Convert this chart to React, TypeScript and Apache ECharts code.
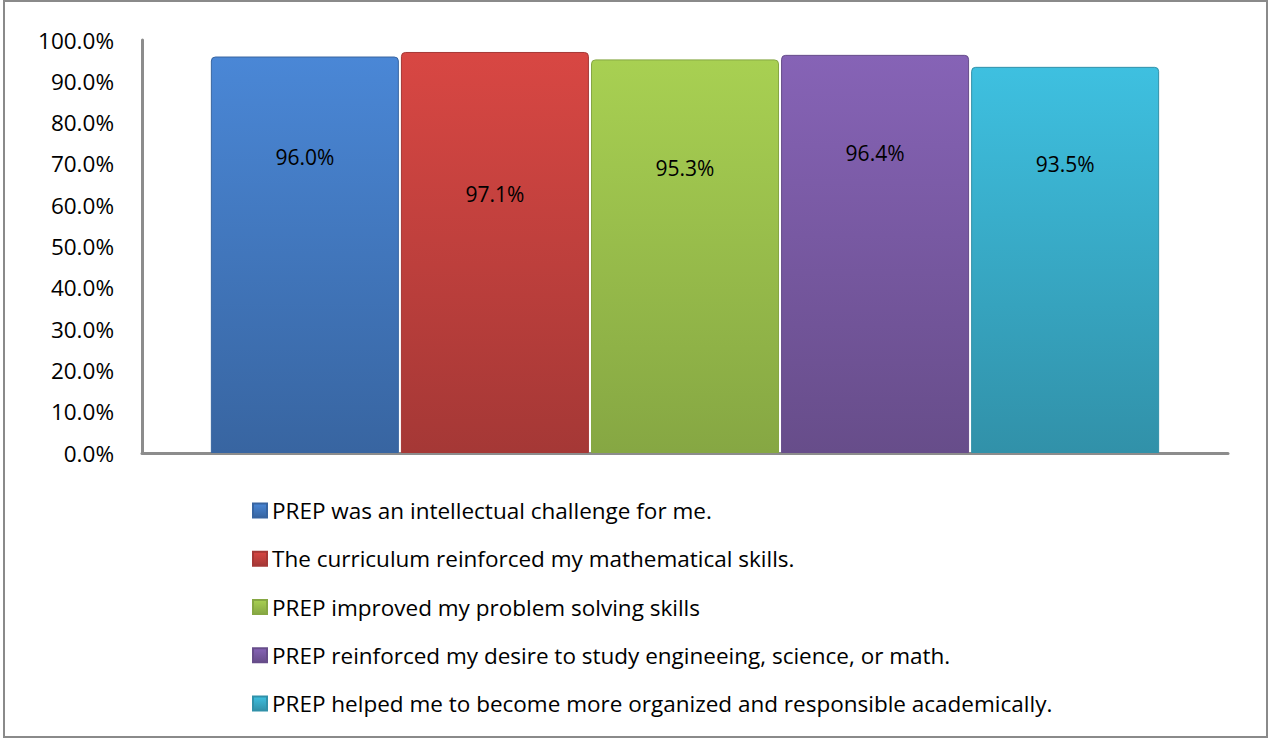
import React, { useEffect, useRef } from "react";
import * as echarts from "echarts";

const seriesNames = [
  "PREP was an intellectual challenge for me.",
  "The curriculum reinforced my mathematical skills.",
  "PREP improved my problem solving skills",
  "PREP reinforced my desire to study engineeing, science, or math.",
  "PREP helped me to become more organized and responsible academically.",
];
const seriesValues = [96.0, 97.1, 95.3, 96.4, 93.5];
const yTicks = { min: 0, max: 100, interval: 10 };

const topColors = ["#4A87D6", "#D84743", "#A8D052", "#8663B6", "#3EC0E0"];
const bottomColors = ["#3865A1", "#A53836", "#86A743", "#674D8A", "#3191A9"];
const labelOffsets = [100, 142, 109, 98, 97];

const FONT = "'Open Sans', sans-serif";
const FS = 22.5;

export default function App() {
  const ref = useRef<HTMLDivElement>(null);
  useEffect(() => {
    document.body.style.margin = "0";
    const chart = echarts.init(ref.current!, undefined, { renderer: "svg" });
    const series = seriesNames.map((name, i) => ({
      name,
      type: "bar",
      data: [seriesValues[i]],
      barWidth: 188,
      barGap: "1.1%",
      itemStyle: {
        color: new echarts.graphic.LinearGradient(0, 0, 0, 1, [
          { offset: 0, color: topColors[i] },
          { offset: 1, color: bottomColors[i] },
        ]),
        borderColor: bottomColors[i],
        borderWidth: 1,
        borderRadius: [4, 4, 0, 0],
      },
      label: {
        show: true,
        position: ["50%", labelOffsets[i]],
        align: "center",
        verticalAlign: "middle",
        formatter: (p: any) => p.value.toFixed(1) + "%",
        color: "#000",
        fontSize: 21,
        fontFamily: FONT,
      },
    }));
    chart.setOption({
      animation: false,
      textStyle: { fontFamily: FONT },
      color: topColors,
      grid: { left: 142, right: 42, top: 40, bottom: 287 },
      xAxis: {
        type: "category",
        data: [""],
        axisTick: { show: false },
        axisLabel: { show: false },
        axisLine: { lineStyle: { color: "#8c8c8c", width: 3 } },
      },
      yAxis: {
        type: "value",
        min: yTicks.min,
        max: yTicks.max,
        interval: yTicks.interval,
        splitLine: { show: false },
        axisTick: { show: false },
        axisLine: { show: true, lineStyle: { color: "#8c8c8c", width: 3 } },
        axisLabel: {
          formatter: (v: number) => v.toFixed(1) + "%",
          color: "#000",
          fontSize: FS,
          fontFamily: FONT,
          margin: 28,
        },
      },
      legend: {
        orient: "vertical",
        left: 252,
        top: 499,
        padding: 0,
        itemWidth: 14,
        itemHeight: 14,
        itemGap: 25.25,
        icon: "rect",
        textStyle: { fontSize: FS, lineHeight: 22, color: "#000", fontFamily: FONT, padding: [0, 0, 0, 0] },
        data: seriesNames,
      },
      graphic: [
        {
          type: "rect",
          shape: { x: 4, y: 1, width: 1263, height: 736 },
          style: { fill: "none", stroke: "#8a8a8a", lineWidth: 2 },
          silent: true,
        },
      ],
      series,
    });
    return () => chart.dispose();
  }, []);
  return (
    <div
      ref={ref}
      style={{ position: "fixed", left: 0, top: 0, width: 1270, height: 740, background: "#fff" }}
    />
  );
}
